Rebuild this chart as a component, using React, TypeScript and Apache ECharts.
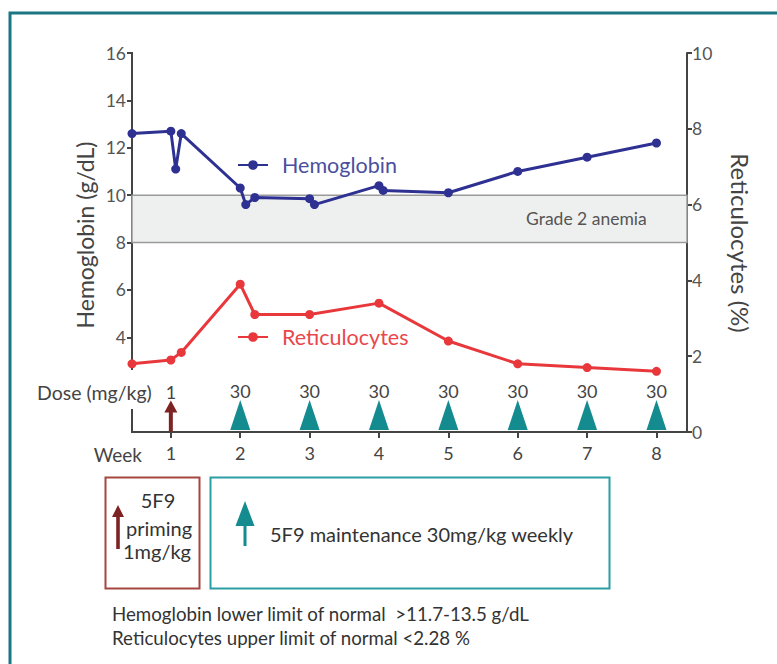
import React, { useEffect, useRef } from "react";
import * as echarts from "echarts";

// ---- data ----
const weekTicks = [1, 2, 3, 4, 5, 6, 7, 8];
const hbWeeks = [0.44, 1.0, 1.07, 1.15, 2.0, 2.08, 2.21, 3.0, 3.07, 4.0, 4.06, 5.0, 6.0, 7.0, 8.0];
const hbValues = [12.6, 12.7, 11.1, 12.6, 10.3, 9.6, 9.9, 9.85, 9.6, 10.4, 10.2, 10.1, 11.0, 11.6, 12.2];
const retWeeks = [0.44, 1.0, 1.15, 2.0, 2.21, 3.0, 4.0, 5.0, 6.0, 7.0, 8.0];
const retValues = [1.8, 1.9, 2.1, 3.9, 3.1, 3.1, 3.4, 2.4, 1.8, 1.7, 1.6];
const doseWeeks = [1, 2, 3, 4, 5, 6, 7, 8];
const doses = [1, 30, 30, 30, 30, 30, 30, 30];
const hbTickLabels = [4, 6, 8, 10, 12, 14, 16];
const anemiaBand = [8, 10];

const FONT = "Lato";
const NAVY = "#2e3192";
const RED = "#e8383c";
const TEAL = "#138b8f";
const DARKRED = "#7d2323";
const AXIS = "#444";

const arrowPath = "path://M6.5,0 L13,12 L8.5,12 L8.5,31 L4.5,31 L4.5,12 L0,12 Z";

export default function App() {
  const ref = useRef<HTMLDivElement>(null);
  useEffect(() => {
    if (!ref.current) return;
    const chart = echarts.init(ref.current, undefined, { renderer: "svg" });
    const txt = (text: string, x: number, y: number, size: number, fill: string, align = "left", extra: any = {}) => ({
      type: "text",
      x,
      y,
      ...extra,
      style: { text, x: 0, y: 0, fill, fontSize: size, fontFamily: FONT, textAlign: align, textVerticalAlign: "middle" },
    });
    const option: any = {
      animation: false,
      backgroundColor: "#fff",
      textStyle: { fontFamily: FONT },
      grid: { left: 132, right: 90, top: 53, bottom: 232 },
      legend: [
        {
          data: ["Hemoglobin"],
          left: 232,
          top: 149,
          itemWidth: 30,
          itemHeight: 12,
          textStyle: { color: "#4b4f9e", fontSize: 21.5, fontFamily: FONT, padding: [0, 0, 0, 9] },
        },
        {
          data: ["Reticulocytes"],
          left: 232,
          top: 321,
          itemWidth: 30,
          itemHeight: 12,
          textStyle: { color: "#e8474b", fontSize: 21.5, fontFamily: FONT, padding: [0, 0, 0, 9] },
        },
      ],
      xAxis: {
        type: "value",
        min: 0.44,
        max: 8.44,
        splitLine: { show: false },
        axisLine: { show: true, onZero: false, lineStyle: { color: AXIS, width: 2 } },
        axisTick: { show: true, customValues: weekTicks, length: 6, lineStyle: { color: AXIS, width: 2 } },
        axisLabel: { customValues: weekTicks, fontSize: 18, color: AXIS, margin: 12, fontFamily: FONT },
      },
      yAxis: [
        {
          type: "value",
          min: 0,
          max: 16,
          position: "left",
          splitLine: { show: false },
          axisLine: { show: false },
          axisTick: { show: true, customValues: hbTickLabels, length: 5, lineStyle: { color: AXIS, width: 2 } },
          axisLabel: { customValues: hbTickLabels, fontSize: 17.5, color: "#555", margin: 6, fontFamily: FONT },
        },
        {
          type: "value",
          min: 0,
          max: 10,
          interval: 2,
          position: "right",
          splitLine: { show: false },
          axisLine: { show: true, lineStyle: { color: AXIS, width: 2 } },
          axisTick: { show: true, length: 5, lineStyle: { color: AXIS, width: 2 } },
          axisLabel: { fontSize: 17.5, color: "#555", margin: 5, fontFamily: FONT },
        },
      ],
      series: [
        {
          name: "Hemoglobin",
          type: "line",
          yAxisIndex: 0,
          data: hbWeeks.map((w, i) => [w, hbValues[i]]),
          color: NAVY,
          lineStyle: { width: 3, color: NAVY },
          symbol: "circle",
          symbolSize: 9,
          z: 5,
          markArea: {
            silent: true,
            itemStyle: { color: "#eef0ef", borderColor: "#9a9a9a", borderWidth: 1.5 },
            label: {
              show: true,
              position: "insideRight",
              formatter: "Grade 2 anemia",
              color: "#555",
              fontSize: 17.5,
              fontFamily: FONT,
              offset: [-36, 0],
            },
            data: [[{ yAxis: anemiaBand[0] }, { yAxis: anemiaBand[1] }]],
          },
        },
        {
          name: "Reticulocytes",
          type: "line",
          yAxisIndex: 1,
          data: retWeeks.map((w, i) => [w, retValues[i]]),
          color: RED,
          lineStyle: { width: 3, color: RED },
          symbol: "circle",
          symbolSize: 9,
          z: 5,
        },
        {
          name: "Dose",
          type: "scatter",
          yAxisIndex: 1,
          z: 4,
          data: doseWeeks.map((w, i) =>
            doses[i] === 1
              ? {
                  value: [w, 0],
                  symbol: arrowPath,
                  symbolSize: [13, 31],
                  symbolOffset: [0, -16],
                  symbolKeepAspect: false,
                  itemStyle: { color: DARKRED, opacity: 1 },
                }
              : {
                  value: [w, 0],
                  symbol: "triangle",
                  symbolSize: [20, 30],
                  symbolOffset: [0, -17],
                  itemStyle: { color: TEAL, opacity: 1 },
                }
          ),
          label: {
            show: true,
            position: "top",
            distance: 0,
            formatter: (p: any) => String(doses[p.dataIndex]),
            fontSize: 18,
            color: AXIS,
            fontFamily: FONT,
          },
        },
      ],
      graphic: [
        { type: "rect", shape: { x: 10, y: 13, width: 900, height: 800 }, style: { fill: "none", stroke: "#1b7682", lineWidth: 3 } },
        { type: "line", shape: { x1: 132, y1: 52, x2: 132, y2: 370 }, style: { stroke: AXIS, lineWidth: 2 } },
        { type: "line", shape: { x1: 132, y1: 409, x2: 132, y2: 433 }, style: { stroke: AXIS, lineWidth: 2 } },
        txt("Hemoglobin (g/dL)", 85, 235, 23, AXIS, "center", { rotation: Math.PI / 2 }),
        txt("Reticulocytes (%)", 740, 243, 24, AXIS, "center", { rotation: -Math.PI / 2 }),
        txt("Dose (mg/kg)", 37, 392, 19.5, AXIS, "left"),
        txt("Week", 142, 454, 19, AXIS, "right"),
        // legend box 1
        { type: "rect", shape: { x: 105.5, y: 477.5, width: 94, height: 111 }, style: { fill: "none", stroke: "#a5473f", lineWidth: 2 } },
        {
          type: "polygon",
          shape: { points: [[118, 505], [124, 517], [119.8, 517], [119.8, 549], [116.2, 549], [116.2, 517], [112, 517]] },
          style: { fill: DARKRED },
        },
        txt("5F9", 158, 500, 20, "#333", "center"),
        txt("priming", 159, 528, 20, "#333", "center"),
        txt("1mg/kg", 157, 551, 20, "#333", "center"),
        // legend box 2
        { type: "rect", shape: { x: 210.5, y: 477.5, width: 399, height: 111 }, style: { fill: "none", stroke: "#2a9ea3", lineWidth: 2 } },
        { type: "polygon", shape: { points: [[245, 501], [254.5, 526], [235.5, 526]] }, style: { fill: TEAL } },
        { type: "rect", shape: { x: 243.5, y: 525, width: 3, height: 21 }, style: { fill: TEAL } },
        txt("5F9 maintenance 30mg/kg weekly", 270, 534, 20, "#333", "left"),
        // notes
        txt("Hemoglobin lower limit of normal  >11.7-13.5 g/dL", 112, 614, 18.7, "#333", "left"),
        txt("Reticulocytes upper limit of normal <2.28 %", 112, 638, 18.7, "#333", "left"),
      ],
    };
    chart.setOption(option);
    return () => chart.dispose();
  }, []);
  return <div ref={ref} style={{ position: "absolute", left: 0, top: 0, width: 777, height: 664 }} />;
}
